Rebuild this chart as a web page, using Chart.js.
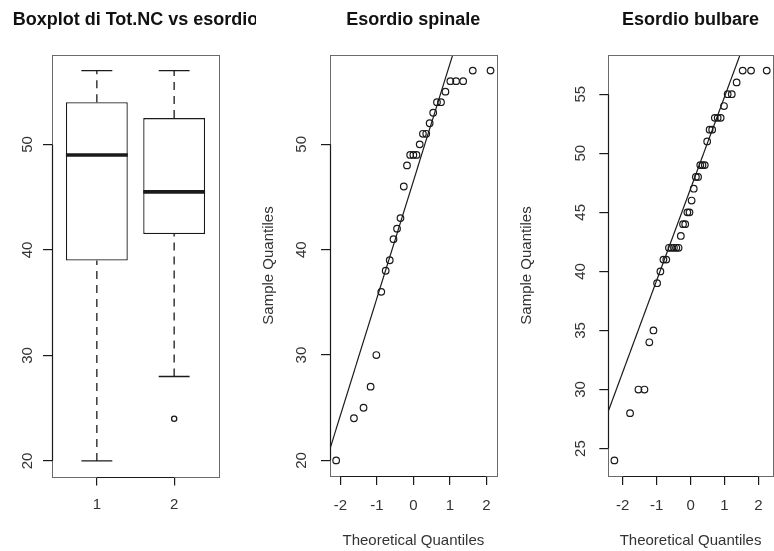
<!DOCTYPE html>
<html><head><meta charset="utf-8">
<script src="https://cdn.jsdelivr.net/npm/chart.js@4"></script>
<style>
html,body{margin:0;padding:0;background:#fff;overflow:hidden;width:774px;height:551px;}
canvas{position:absolute;top:0;}
</style></head><body>
<canvas id="c1" width="256" height="551" style="left:0px"></canvas>
<canvas id="c2" width="258" height="551" style="left:258px"></canvas>
<canvas id="c3" width="262" height="551" style="left:516px"></canvas>
<script>
// ---------- data ----------
const boxTitle = 'Boxplot di Tot.NC vs esordio';
const boxGroups = ['1', '2'];
const boxPositions = [1, 2];
const boxMin = [20, 28];
const boxQ1 = [39, 41.5];
const boxMedian = [49, 45.5];
const boxQ3 = [54, 52.5];
const boxMax = [57, 57];
const boxOutliers = [[], [24]];
const boxYTicks = [20, 30, 40, 50];

const spinalTitle = 'Esordio spinale';
const spinalTheoretical = [-2.115, -1.628, -1.365, -1.171, -1.014, -0.879, -0.758, -0.647, -0.544, -0.447,
  -0.353, -0.262, -0.174, -0.087, 0, 0.087, 0.174, 0.262, 0.353, 0.447,
  0.544, 0.647, 0.758, 0.879, 1.014, 1.171, 1.365, 1.628, 2.115];
const spinalSample = [20, 24, 25, 27, 30, 36, 38, 39, 41, 42,
  43, 46, 48, 49, 49, 49, 50, 51, 51, 52,
  53, 54, 54, 55, 56, 56, 56, 57, 57];
const spinalYTicks = [20, 30, 40, 50];
const spinalLineX = [-2.4, 1.2];
const spinalLineY = [19.81, 59.84];

const bulbarTitle = 'Esordio bulbare';
const bulbarTheoretical = [-2.241, -1.780, -1.534, -1.356, -1.213, -1.092, -0.984, -0.887, -0.798, -0.714,
  -0.636, -0.561, -0.489, -0.419, -0.352, -0.286, -0.221, -0.157, -0.094, -0.031,
  0.031, 0.094, 0.157, 0.221, 0.286, 0.352, 0.419, 0.489, 0.561, 0.636,
  0.714, 0.798, 0.887, 0.984, 1.092, 1.213, 1.356, 1.534, 1.780, 2.241];
const bulbarSample = [24, 28, 30, 30, 34, 35, 39, 40, 41, 41,
  42, 42, 42, 42, 42, 43, 44, 44, 45, 45,
  46, 47, 48, 48, 49, 49, 49, 51, 52, 52,
  53, 53, 53, 54, 55, 55, 56, 57, 57, 57];
const bulbarYTicks = [25, 30, 35, 40, 45, 50, 55];
const bulbarLineX = [-2.5, 1.6];
const bulbarLineY = [27.54, 59.45];

const qqXTicks = [-2, -1, 0, 1, 2];
const xLabelQQ = 'Theoretical Quantiles';
const yLabelQQ = 'Sample Quantiles';

// ---------- style ----------
const FONT = '"Liberation Sans", Arial, Helvetica, sans-serif';
const INK = '#1a1a1a';
const TXT = '#333333';
const BOX_HALF = 0.4;
const CAP_HALF = 0.2;

const framePlugin = {
  id: 'rframe',
  afterDatasetsDraw(chart, args, opts) {
    const ctx = chart.ctx, a = chart.chartArea;
    ctx.save();
    const l = Math.round(a.left) + 0.5, t = Math.round(a.top) + 0.5;
    const r = Math.round(a.right) + 0.5, b = Math.round(a.bottom) + 0.5;
    ctx.strokeStyle = '#6a6a6a';
    ctx.lineWidth = 1;
    ctx.strokeRect(l, t, r - l, b - t);
    const xs = chart.scales.x, ys = chart.scales.y;
    const xt = xs.ticks, yt = ys.ticks;
    ctx.strokeStyle = INK;
    ctx.lineWidth = 1.2;
    ctx.beginPath();
    ctx.moveTo(xs.getPixelForValue(xt[0].value), b);
    ctx.lineTo(xs.getPixelForValue(xt[xt.length - 1].value), b);
    ctx.moveTo(l, ys.getPixelForValue(yt[0].value));
    ctx.lineTo(l, ys.getPixelForValue(yt[yt.length - 1].value));
    ctx.stroke();
    ctx.fillStyle = '#111';
    ctx.font = 'bold 18px ' + FONT;
    ctx.textAlign = 'center';
    ctx.textBaseline = 'middle';
    ctx.fillText(opts.title, (a.left + a.right) / 2, 20);
    ctx.restore();
  }
};

function zeroPad(s) { s.paddingLeft = 0; s.paddingRight = 0; s.paddingTop = 0; s.paddingBottom = 0; }

function xAxis(min, max, ticks, h, pad, title) {
  return {
    type: 'linear', min: min, max: max, offset: false,
    afterBuildTicks: s => { s.ticks = ticks.map(v => ({ value: v })); },
    afterFit: s => { s.height = h; zeroPad(s); },
    grid: { drawOnChartArea: false, drawTicks: true, tickLength: 9, color: INK, lineWidth: 1.2, offset: false },
    border: { display: false },
    ticks: { autoSkip: false, maxRotation: 0, padding: pad, color: TXT, font: { family: FONT, size: 15 } },
    title: title ? { display: true, text: title, color: TXT, font: { family: FONT, size: 15 }, padding: { top: 0, bottom: 1 } } : { display: false }
  };
}
function yAxis(min, max, ticks, w, pad, title) {
  return {
    type: 'linear', min: min, max: max,
    afterBuildTicks: s => { s.ticks = ticks.map(v => ({ value: v })); },
    afterFit: s => { s.width = w; zeroPad(s); },
    grid: { drawOnChartArea: false, drawTicks: true, tickLength: 9, color: INK, lineWidth: 1.2 },
    border: { display: false },
    ticks: { autoSkip: false, minRotation: 90, maxRotation: 90, crossAlign: 'center', padding: pad, color: TXT, font: { family: FONT, size: 15 } },
    title: title ? { display: true, text: title, color: TXT, font: { family: FONT, size: 15 }, padding: { top: 2, bottom: 0 } } : { display: false }
  };
}
const common = {
  responsive: false, animation: false, devicePixelRatio: 1, events: [],
};

// ---------- boxplot ----------
const boxDatasets = [];
boxDatasets.push({
  type: 'bar', order: 10,
  data: boxPositions.map((p, i) => ({ x: p, y: [boxQ1[i], boxQ3[i]] })),
  backgroundColor: '#ffffff', borderColor: INK, borderWidth: 1.3, borderSkipped: false,
  barPercentage: 2 * BOX_HALF, categoryPercentage: 1.0
});
boxPositions.forEach((p, i) => {
  const seg = (pts, extra) => Object.assign({
    type: 'line', order: 1, data: pts, borderColor: INK, borderWidth: 1.3,
    pointRadius: 0, fill: false, tension: 0
  }, extra || {});
  boxDatasets.push(seg([{ x: p, y: boxQ3[i] }, { x: p, y: boxMax[i] }], { borderDash: [8, 6] }));
  boxDatasets.push(seg([{ x: p, y: boxMin[i] }, { x: p, y: boxQ1[i] }], { borderDash: [8, 6] }));
  boxDatasets.push(seg([{ x: p - CAP_HALF, y: boxMax[i] }, { x: p + CAP_HALF, y: boxMax[i] }]));
  boxDatasets.push(seg([{ x: p - CAP_HALF, y: boxMin[i] }, { x: p + CAP_HALF, y: boxMin[i] }]));
  boxDatasets.push(seg([{ x: p - BOX_HALF, y: boxMedian[i] }, { x: p + BOX_HALF, y: boxMedian[i] }], { borderWidth: 3.6, order: 0 }));
  if (boxOutliers[i].length) {
    boxDatasets.push({
      type: 'line', order: 0, showLine: false,
      data: boxOutliers[i].map(v => ({ x: p, y: v })),
      pointRadius: 2.6, pointBorderWidth: 1.3, pointBorderColor: INK, pointBackgroundColor: 'rgba(0,0,0,0)'
    });
  }
});
const boxX = xAxis(0.42, 2.58, boxPositions, 74.5, 10.5, null);
boxX.ticks.callback = (v) => boxGroups[boxPositions.indexOf(v)];
new Chart(document.getElementById('c1'), {
  type: 'bar',
  data: { datasets: boxDatasets },
  options: Object.assign({}, common, {
    layout: { padding: { left: 0, right: 37, top: 55, bottom: 0 } },
    scales: { x: boxX, y: yAxis(18.52, 58.48, boxYTicks, 52, 7.2, null) },
    plugins: { legend: { display: false }, tooltip: { enabled: false }, rframe: { title: boxTitle } }
  }),
  plugins: [framePlugin]
});

// ---------- QQ plots ----------
function qqChart(id, title, theo, sample, lx, ly, xr, yr, yTicks, yW, yPad, rightPad) {
  new Chart(document.getElementById(id), {
    type: 'scatter',
    data: {
      datasets: [
        {
          type: 'scatter', order: 1,
          data: theo.map((x, i) => ({ x: x, y: sample[i] })),
          pointRadius: 3.3, pointBorderWidth: 1.2, pointBorderColor: INK, pointBackgroundColor: 'rgba(0,0,0,0)'
        },
        {
          type: 'line', order: 0,
          data: lx.map((x, i) => ({ x: x, y: ly[i] })),
          borderColor: INK, borderWidth: 1.2, pointRadius: 0, fill: false
        }
      ]
    },
    options: Object.assign({}, common, {
      layout: { padding: { left: 0, right: rightPad, top: 55, bottom: 0 } },
      scales: {
        x: xAxis(-xr, xr, qqXTicks, 75, 11.7, xLabelQQ),
        y: yAxis(yr[0], yr[1], yTicks, yW, yPad, yLabelQQ)
      },
      plugins: { legend: { display: false }, tooltip: { enabled: false }, rframe: { title: title } }
    }),
    plugins: [framePlugin]
  });
}
qqChart('c2', spinalTitle, spinalTheoretical, spinalSample, spinalLineX, spinalLineY,
  2.284, [18.52, 58.48], spinalYTicks, 72, 10.7, 19.3);
qqChart('c3', bulbarTitle, bulbarTheoretical, bulbarSample, bulbarLineX, bulbarLineY,
  2.42, [22.68, 58.32], bulbarYTicks, 92.3, 9.7, 3.5);
</script>
</body></html>
